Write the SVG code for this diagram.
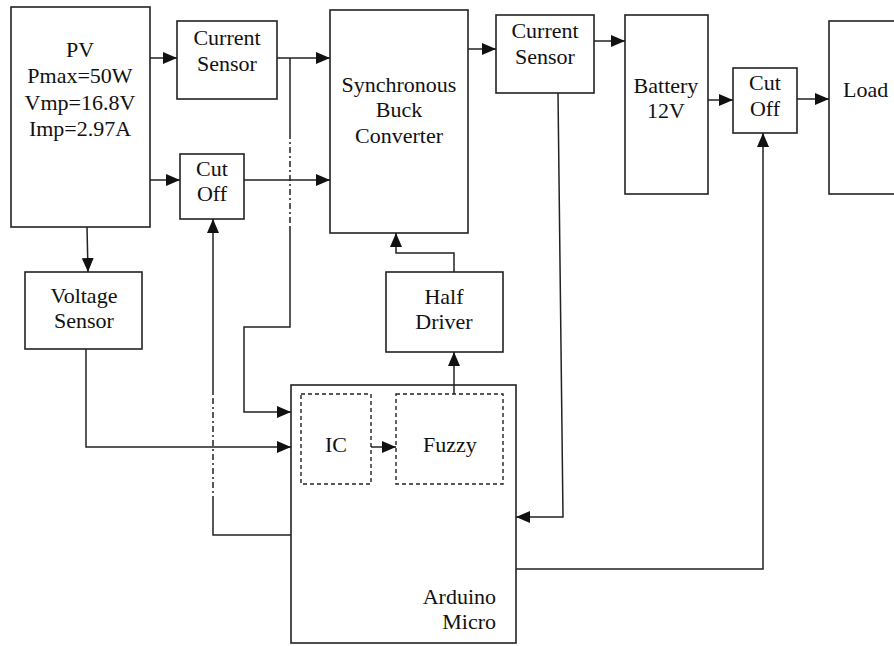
<svg xmlns="http://www.w3.org/2000/svg" width="894" height="646" viewBox="0 0 894 646">
<style>
.box{fill:#fff;stroke:#222;stroke-width:1.6}
.dbox{fill:none;stroke:#222;stroke-width:1.4;stroke-dasharray:4 3}
.ln{fill:none;stroke:#222;stroke-width:1.5}
.dd{fill:none;stroke:#222;stroke-width:1.5;stroke-dasharray:6 3 2 3}
.arr{marker-end:url(#ah)}
text{font-family:"Liberation Serif","Times New Roman",serif;font-size:22px;fill:#111}
.c{text-anchor:middle}
.r{text-anchor:end}
</style>
<defs>
<marker id="ah" viewBox="0 0 14 12" refX="14" refY="6" markerWidth="14" markerHeight="12" markerUnits="userSpaceOnUse" orient="auto">
<path d="M0,0 L14,6 L0,12 Z" fill="#111"/>
</marker>
</defs>
<rect width="894" height="646" fill="#fff"/>
<g id="pv">
<rect class="box" x="11" y="7" width="139" height="220"/>
<text class="c" x="80" y="57">PV</text>
<text class="c" x="80" y="83">Pmax=50W</text>
<text class="c" x="80" y="110">Vmp=16.8V</text>
<text class="c" x="80" y="136">Imp=2.97A</text>
</g>
<g id="current-sensor-1">
<rect class="box" x="177" y="21" width="100" height="78"/>
<text class="c" x="227" y="45">Current</text>
<text class="c" x="227" y="71">Sensor</text>
</g>
<g id="cut-off-1">
<rect class="box" x="180" y="154" width="64" height="65"/>
<text class="c" x="212" y="176">Cut</text>
<text class="c" x="212" y="201">Off</text>
</g>
<g id="buck">
<rect class="box" x="330" y="10" width="138" height="223"/>
<text class="c" x="399" y="92">Synchronous</text>
<text class="c" x="399" y="117">Buck</text>
<text class="c" x="399" y="143">Converter</text>
</g>
<g id="current-sensor-2">
<rect class="box" x="496" y="15" width="98" height="78"/>
<text class="c" x="545" y="38">Current</text>
<text class="c" x="545" y="64">Sensor</text>
</g>
<g id="battery">
<rect class="box" x="625" y="15" width="83" height="179"/>
<text class="c" x="666" y="93">Battery</text>
<text class="c" x="666" y="118">12V</text>
</g>
<g id="cut-off-2">
<rect class="box" x="733" y="68" width="64" height="65"/>
<text class="c" x="765" y="90">Cut</text>
<text class="c" x="765" y="116">Off</text>
</g>
<g id="load">
<rect class="box" x="829" y="21" width="80" height="173"/>
<text x="843" y="97">Load</text>
</g>
<g id="voltage-sensor">
<rect class="box" x="25" y="272" width="117" height="77"/>
<text class="c" x="84" y="303">Voltage</text>
<text class="c" x="84" y="328">Sensor</text>
</g>
<g id="half-driver">
<rect class="box" x="386" y="272" width="117" height="80"/>
<text class="c" x="444" y="304">Half</text>
<text class="c" x="444" y="329">Driver</text>
</g>
<g id="arduino">
<rect class="box" x="291" y="385" width="225" height="258"/>
<text class="r" x="496" y="604">Arduino</text>
<text class="r" x="496" y="629">Micro</text>
</g>
<g id="ic">
<rect class="dbox" x="301" y="394" width="70" height="90"/>
<text class="c" x="336" y="452">IC</text>
</g>
<g id="fuzzy">
<rect class="dbox" x="396" y="394" width="107" height="90"/>
<text class="c" x="450" y="452">Fuzzy</text>
</g>
<g id="connectors">
<path class="ln arr" d="M150,58 H177"/>
<path class="ln arr" d="M277,58 H330"/>
<path class="ln arr" d="M150,180 H180"/>
<path class="ln arr" d="M244,180 H330"/>
<path class="ln arr" d="M468,49 H496"/>
<path class="ln arr" d="M594,41 H625"/>
<path class="ln arr" d="M708,100 H733"/>
<path class="ln arr" d="M797,99 H829"/>
<path class="ln arr" d="M87,227 L88,272"/>
<path class="ln arr" d="M86,349 V447 H291"/>
<path class="ln" d="M290,58 V133"/>
<path class="dd" d="M290,133 V226"/>
<path class="ln arr" d="M290,226 V327 H244 V412 H291"/>
<path class="ln" d="M291,535 H213 V502"/>
<path class="dd" d="M213,502 V395"/>
<path class="ln arr" d="M213,395 V219"/>
<path class="ln arr" d="M558,93 L563,517 H516"/>
<path class="ln arr" d="M516,569 H763 V133"/>
<path class="ln arr" d="M371,447 H396"/>
<path class="ln arr" d="M454,394 V352"/>
<path class="ln arr" d="M454,272 V253 H396 V233"/>
</g>
</svg>
